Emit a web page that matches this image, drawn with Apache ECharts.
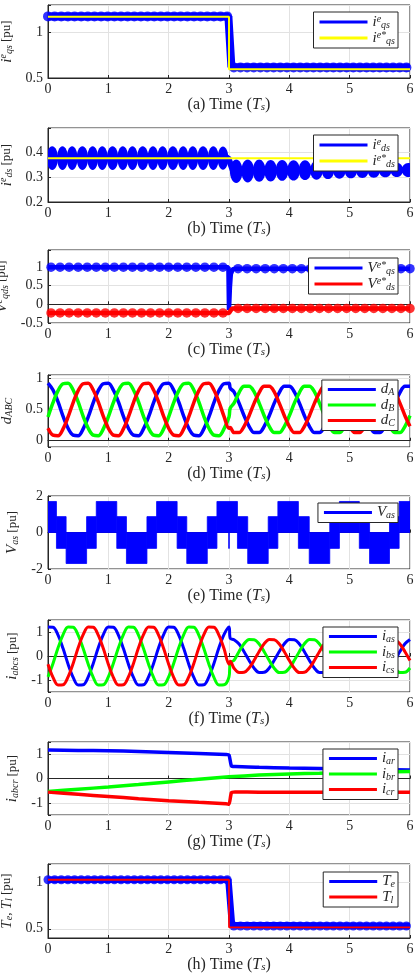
<!DOCTYPE html>
<html>
<head>
<meta charset="utf-8">
<script src="https://cdn.jsdelivr.net/npm/echarts@6/dist/echarts.min.js"></script>
<style>
  html, body { margin: 0; padding: 0; background: #fff; }
  #chart { width: 415px; height: 974px; }
</style>
</head>
<body>
<div id="chart"></div>
<script>
// ---------- values (time in Ts, values in pu) ----------
const yTicksA = [0.5, 1];
const yTicksB = [0.2, 0.3, 0.4];
const yTicksC = [-0.5, 0, 0.5, 1];
const yTicksD = [0, 0.5, 1];
const yTicksE = [-2, 0, 2];
const yTicksF = [-1, 0, 1];
const yTicksG = [-1, 0, 1];
const yTicksH = [0.5, 1];

// (a) q-axis current: reference, band centre and the ripple bumps on the band
const iqsRef = [[0, 1.17], [3, 1.17], [3, 0.595], [6, 0.595]];
const iqsMean = [[0, 1.175], [2.99, 1.175], [3.04, 0.62], [6, 0.615]];
const iqsRipple = [
  [0, 1.175], [0.11, 1.175], [0.22, 1.175], [0.33, 1.175], [0.44, 1.175], [0.55, 1.175], [0.66, 1.175],
  [0.77, 1.175], [0.88, 1.175], [0.99, 1.175], [1.1, 1.175], [1.21, 1.175], [1.32, 1.175], [1.43, 1.175],
  [1.54, 1.175], [1.65, 1.175], [1.76, 1.175], [1.87, 1.175], [1.98, 1.175], [2.09, 1.175], [2.2, 1.175],
  [2.31, 1.175], [2.42, 1.175], [2.53, 1.175], [2.64, 1.175], [2.75, 1.175], [2.86, 1.175], [2.97, 1.175],
  [3.08, 0.615], [3.19, 0.615], [3.3, 0.615], [3.41, 0.615], [3.52, 0.615], [3.63, 0.615], [3.74, 0.615],
  [3.85, 0.615], [3.96, 0.615], [4.07, 0.615], [4.18, 0.615], [4.29, 0.615], [4.4, 0.615], [4.51, 0.615],
  [4.62, 0.615], [4.73, 0.615], [4.84, 0.615], [4.95, 0.615], [5.06, 0.615], [5.17, 0.615], [5.28, 0.615],
  [5.39, 0.615], [5.5, 0.615], [5.61, 0.615], [5.72, 0.615], [5.83, 0.615], [5.94, 0.615]
];

// (b) d-axis current: reference, band centre, beat lobes [t, centre, peak-to-peak]
const idsRef = [[0, 0.377], [6, 0.377]];
const idsMean = [[0, 0.378], [2.99, 0.378], [3.06, 0.33], [6, 0.33]];
const idsLobes = [
  [0.07, 0.378, 0.097], [0.24, 0.378, 0.097], [0.4, 0.378, 0.097], [0.57, 0.378, 0.097], [0.74, 0.378, 0.097],
  [0.9, 0.378, 0.097], [1.07, 0.378, 0.097], [1.24, 0.378, 0.097], [1.4, 0.378, 0.097], [1.57, 0.378, 0.097],
  [1.74, 0.378, 0.097], [1.9, 0.378, 0.097], [2.07, 0.378, 0.097], [2.24, 0.378, 0.097], [2.4, 0.378, 0.097],
  [2.57, 0.378, 0.097], [2.74, 0.378, 0.097], [2.9, 0.378, 0.095],
  [3.12, 0.325, 0.095], [3.31, 0.326, 0.093], [3.5, 0.327, 0.09], [3.69, 0.327, 0.087], [3.88, 0.328, 0.084],
  [4.07, 0.328, 0.082], [4.26, 0.329, 0.08], [4.45, 0.329, 0.077], [4.64, 0.33, 0.074], [4.83, 0.33, 0.071],
  [5.02, 0.33, 0.068], [5.21, 0.33, 0.065], [5.4, 0.33, 0.063], [5.59, 0.33, 0.06], [5.78, 0.33, 0.058],
  [5.97, 0.33, 0.057]
];

// (c) voltage references
const vqsMean = [[0, 0.99], [2.99, 0.99], [3.0, -0.15], [3.015, 0.45], [3.03, 0.8], [3.06, 0.93], [3.1, 0.95], [6, 0.95]];
const vdsMean = [[0, -0.23], [3.0, -0.23], [3.05, -0.11], [6, -0.11]];
const vqsRipple = [
  [0.05, 0.99], [0.2, 0.99], [0.35, 0.99], [0.5, 0.99], [0.65, 0.99], [0.8, 0.99], [0.95, 0.99], [1.1, 0.99],
  [1.25, 0.99], [1.4, 0.99], [1.55, 0.99], [1.7, 0.99], [1.85, 0.99], [2, 0.99], [2.15, 0.99], [2.3, 0.99],
  [2.45, 0.99], [2.6, 0.99], [2.75, 0.99], [2.9, 0.99],
  [3.15, 0.95], [3.3, 0.95], [3.45, 0.95], [3.6, 0.95], [3.75, 0.95], [3.9, 0.95], [4.05, 0.95], [4.2, 0.95],
  [4.35, 0.95], [4.5, 0.95], [4.65, 0.95], [4.8, 0.95], [4.95, 0.95], [5.1, 0.95], [5.25, 0.95], [5.4, 0.95],
  [5.55, 0.95], [5.7, 0.95], [5.85, 0.95], [6, 0.95]
];
const vdsRipple = [
  [0.05, -0.23], [0.2, -0.23], [0.35, -0.23], [0.5, -0.23], [0.65, -0.23], [0.8, -0.23], [0.95, -0.23], [1.1, -0.23],
  [1.25, -0.23], [1.4, -0.23], [1.55, -0.23], [1.7, -0.23], [1.85, -0.23], [2, -0.23], [2.15, -0.23], [2.3, -0.23],
  [2.45, -0.23], [2.6, -0.23], [2.75, -0.23], [2.9, -0.23],
  [3.15, -0.11], [3.3, -0.11], [3.45, -0.11], [3.6, -0.11], [3.75, -0.11], [3.9, -0.11], [4.05, -0.11], [4.2, -0.11],
  [4.35, -0.11], [4.5, -0.11], [4.65, -0.11], [4.8, -0.11], [4.95, -0.11], [5.1, -0.11], [5.25, -0.11], [5.4, -0.11],
  [5.55, -0.11], [5.7, -0.11], [5.85, -0.11], [6, -0.11]
];

// sample instants used for the sinusoidal traces in (d) and (f)
const tPre = [0, 0.083, 0.167, 0.25, 0.333, 0.417, 0.5, 0.583, 0.667, 0.75, 0.833, 0.917,
  1, 1.083, 1.167, 1.25, 1.333, 1.417, 1.5, 1.583, 1.667, 1.75, 1.833, 1.917,
  2, 2.083, 2.167, 2.25, 2.333, 2.417, 2.5, 2.583, 2.667, 2.75, 2.833, 2.917, 3];
const tPost = [3.02, 3.083, 3.167, 3.25, 3.333, 3.417, 3.5, 3.583, 3.667, 3.75, 3.833, 3.917,
  4, 4.083, 4.167, 4.25, 4.333, 4.417, 4.5, 4.583, 4.667, 4.75, 4.833, 4.917,
  5, 5.083, 5.167, 5.25, 5.333, 5.417, 5.5, 5.583, 5.667, 5.75, 5.833, 5.917, 6];

// (d) duty cycles
const dAPre = [0.92, 0.81, 0.62, 0.39, 0.2, 0.09, 0.08, 0.19, 0.38, 0.61, 0.8, 0.91,
  0.92, 0.81, 0.62, 0.39, 0.2, 0.09, 0.08, 0.19, 0.38, 0.61, 0.8, 0.91,
  0.92, 0.81, 0.62, 0.39, 0.2, 0.09, 0.08, 0.19, 0.38, 0.61, 0.8, 0.91, 0.92];
const dBPre = [0.38, 0.61, 0.8, 0.91, 0.92, 0.81, 0.62, 0.39, 0.2, 0.09, 0.08, 0.19,
  0.38, 0.61, 0.8, 0.91, 0.92, 0.81, 0.62, 0.39, 0.2, 0.09, 0.08, 0.19,
  0.38, 0.61, 0.8, 0.91, 0.92, 0.81, 0.62, 0.39, 0.2, 0.09, 0.08, 0.19, 0.38];
const dCPre = [0.2, 0.09, 0.08, 0.19, 0.38, 0.61, 0.8, 0.91, 0.92, 0.81, 0.62, 0.39,
  0.2, 0.09, 0.08, 0.19, 0.38, 0.61, 0.8, 0.91, 0.92, 0.81, 0.62, 0.39,
  0.2, 0.09, 0.08, 0.19, 0.38, 0.61, 0.8, 0.91, 0.92, 0.81, 0.62, 0.39, 0.2];
const dAPost = [0.84,
  0.78, 0.6, 0.4, 0.23, 0.13, 0.13, 0.23, 0.4, 0.6, 0.77, 0.87, 0.87,
  0.78, 0.6, 0.4, 0.23, 0.13, 0.13, 0.23, 0.4, 0.6, 0.77, 0.87, 0.87,
  0.78, 0.6, 0.4, 0.23, 0.13, 0.13, 0.23, 0.4, 0.6, 0.77, 0.87, 0.87];
const dBPost = [0.52,
  0.6, 0.77, 0.87, 0.87, 0.78, 0.6, 0.4, 0.23, 0.13, 0.13, 0.23, 0.4,
  0.6, 0.77, 0.87, 0.87, 0.78, 0.6, 0.4, 0.23, 0.13, 0.13, 0.23, 0.4,
  0.6, 0.77, 0.87, 0.87, 0.78, 0.6, 0.4, 0.23, 0.13, 0.13, 0.23, 0.4];
const dCPost = [0.21,
  0.13, 0.13, 0.23, 0.4, 0.6, 0.77, 0.87, 0.87, 0.78, 0.6, 0.4, 0.23,
  0.13, 0.13, 0.23, 0.4, 0.6, 0.77, 0.87, 0.87, 0.78, 0.6, 0.4, 0.23,
  0.13, 0.13, 0.23, 0.4, 0.6, 0.77, 0.87, 0.87, 0.78, 0.6, 0.4, 0.23];

// (e) phase voltage: switching bands [tStart, tEnd, low, high]
const vasBands = [
  [0, 0.14, 0, 1.7], [0.14, 0.3, -0.87, 0.87], [0.3, 0.64, -1.7, 0], [0.64, 0.8, -0.87, 0.87],
  [0.8, 1.14, 0, 1.7], [1.14, 1.3, -0.87, 0.87], [1.3, 1.64, -1.7, 0], [1.64, 1.8, -0.87, 0.87],
  [1.8, 2.14, 0, 1.7], [2.14, 2.3, -0.87, 0.87], [2.3, 2.64, -1.7, 0], [2.64, 2.8, -0.87, 0.87],
  [2.8, 3.14, 0, 1.7], [2.995, 3.005, -0.87, 0],
  [3.14, 3.31, -0.87, 0.87], [3.31, 3.65, -1.7, 0], [3.65, 3.81, -0.87, 0.87],
  [3.81, 4.15, 0, 1.7], [4.15, 4.33, -0.87, 0.87], [4.33, 4.67, -1.7, 0], [4.67, 4.83, -0.87, 0.87],
  [4.83, 5.16, 0, 1.7], [5.16, 5.33, -0.87, 0.87], [5.33, 5.66, -1.7, 0], [5.66, 5.82, -0.87, 0.87],
  [5.82, 6, 0, 1.7]
];

// (f) stator phase currents
const iasPre = [1.21, 1.2, 0.87, 0.31, -0.34, -0.89, -1.21, -1.2, -0.87, -0.31, 0.34, 0.89,
  1.21, 1.2, 0.87, 0.31, -0.34, -0.89, -1.21, -1.2, -0.87, -0.31, 0.34, 0.89,
  1.21, 1.2, 0.87, 0.31, -0.34, -0.89, -1.21, -1.2, -0.87, -0.31, 0.34, 0.89, 1.21];
const ibsPre = [-0.87, -0.31, 0.34, 0.89, 1.21, 1.2, 0.87, 0.31, -0.34, -0.89, -1.21, -1.2,
  -0.87, -0.31, 0.34, 0.89, 1.21, 1.2, 0.87, 0.31, -0.34, -0.89, -1.21, -1.2,
  -0.87, -0.31, 0.34, 0.89, 1.21, 1.2, 0.87, 0.31, -0.34, -0.89, -1.21, -1.2, -0.87];
const icsPre = [-0.34, -0.89, -1.21, -1.2, -0.87, -0.31, 0.34, 0.89, 1.21, 1.2, 0.87, 0.31,
  -0.34, -0.89, -1.21, -1.2, -0.87, -0.31, 0.34, 0.89, 1.21, 1.2, 0.87, 0.31,
  -0.34, -0.89, -1.21, -1.2, -0.87, -0.31, 0.34, 0.89, 1.21, 1.2, 0.87, 0.31, -0.34];
const iasPost = [0.74,
  0.68, 0.5, 0.18, -0.19, -0.51, -0.69, -0.68, -0.5, -0.18, 0.19, 0.51, 0.69,
  0.68, 0.5, 0.18, -0.19, -0.51, -0.69, -0.68, -0.5, -0.18, 0.19, 0.51, 0.69,
  0.68, 0.5, 0.18, -0.19, -0.51, -0.69, -0.68, -0.5, -0.18, 0.19, 0.51, 0.69];
const ibsPost = [-0.28,
  -0.18, 0.19, 0.51, 0.69, 0.68, 0.5, 0.18, -0.19, -0.51, -0.69, -0.68, -0.5,
  -0.18, 0.19, 0.51, 0.69, 0.68, 0.5, 0.18, -0.19, -0.51, -0.69, -0.68, -0.5,
  -0.18, 0.19, 0.51, 0.69, 0.68, 0.5, 0.18, -0.19, -0.51, -0.69, -0.68, -0.5];
const icsPost = [-0.22,
  -0.51, -0.69, -0.68, -0.5, -0.18, 0.19, 0.51, 0.69, 0.68, 0.5, 0.18, -0.19,
  -0.51, -0.69, -0.68, -0.5, -0.18, 0.19, 0.51, 0.69, 0.68, 0.5, 0.18, -0.19,
  -0.51, -0.69, -0.68, -0.5, -0.18, 0.19, 0.51, 0.69, 0.68, 0.5, 0.18, -0.19];

// (g) rotor currents
const iar = [[0, 1.17], [0.5, 1.155], [1, 1.14], [1.5, 1.11], [2, 1.07], [2.5, 1.03], [2.95, 0.99], [3, 0.97],
  [3.04, 0.52], [3.1, 0.49], [3.5, 0.46], [4, 0.43], [4.5, 0.41], [5, 0.39], [5.5, 0.37], [6, 0.35]];
const ibr = [[0, -0.53], [0.5, -0.44], [1, -0.35], [1.5, -0.25], [2, -0.14], [2.5, -0.03], [3, 0.07],
  [3.5, 0.14], [4, 0.19], [4.5, 0.22], [5, 0.25], [5.5, 0.27], [6, 0.29]];
const icr = [[0, -0.56], [0.5, -0.65], [1, -0.74], [1.5, -0.83], [2, -0.91], [2.5, -0.98], [2.95, -1.04], [3, -1.06],
  [3.04, -0.58], [3.1, -0.55], [3.5, -0.56], [4, -0.57], [5, -0.57], [6, -0.57]];

// (h) torques
const teMean = [[0, 1.03], [2.99, 1.03], [3.05, 0.54], [6, 0.53]];
const tlLoad = [[0, 1.03], [3, 1.03], [3, 0.515], [6, 0.515]];
const teRipple = [
  [0, 1.03], [0.11, 1.03], [0.22, 1.03], [0.33, 1.03], [0.44, 1.03], [0.55, 1.03], [0.66, 1.03],
  [0.77, 1.03], [0.88, 1.03], [0.99, 1.03], [1.1, 1.03], [1.21, 1.03], [1.32, 1.03], [1.43, 1.03],
  [1.54, 1.03], [1.65, 1.03], [1.76, 1.03], [1.87, 1.03], [1.98, 1.03], [2.09, 1.03], [2.2, 1.03],
  [2.31, 1.03], [2.42, 1.03], [2.53, 1.03], [2.64, 1.03], [2.75, 1.03], [2.86, 1.03], [2.97, 1.03],
  [3.08, 0.53], [3.19, 0.53], [3.3, 0.53], [3.41, 0.53], [3.52, 0.53], [3.63, 0.53], [3.74, 0.53],
  [3.85, 0.53], [3.96, 0.53], [4.07, 0.53], [4.18, 0.53], [4.29, 0.53], [4.4, 0.53], [4.51, 0.53],
  [4.62, 0.53], [4.73, 0.53], [4.84, 0.53], [4.95, 0.53], [5.06, 0.53], [5.17, 0.53], [5.28, 0.53],
  [5.39, 0.53], [5.5, 0.53], [5.61, 0.53], [5.72, 0.53], [5.83, 0.53], [5.94, 0.53]
];

// ---------- styling ----------
const SERIF = '"Liberation Serif", "DejaVu Serif", serif';
const INK = '#262626';
const BLUE = '#0000ff', RED = '#ff0000', GREEN = '#00ff00', YELLOW = '#ffff00';

function richSet(size, mathSize) {
  const ms = mathSize || size;
  const s = Math.round(ms * 0.66);
  return {
    r: { fontFamily: SERIF, fontSize: size, color: INK, lineHeight: 16 },
    m: { fontFamily: SERIF, fontStyle: 'italic', fontSize: ms, color: INK, lineHeight: 16 },
    sup: { fontFamily: SERIF, fontStyle: 'italic', fontSize: s, color: INK, lineHeight: 8, verticalAlign: 'top' },
    sub: { fontFamily: SERIF, fontStyle: 'italic', fontSize: s, color: INK, lineHeight: 8, verticalAlign: 'bottom' },
  };
}

const legendText = {
  iqs: '{m|i}{sup|e}{sub|qs}', iqsRef: '{m|i}{sup|e*}{sub|qs}',
  ids: '{m|i}{sup|e}{sub|ds}', idsRef: '{m|i}{sup|e*}{sub|ds}',
  vqs: '{m|V}{sup|e*}{sub|qs}', vds: '{m|V}{sup|e*}{sub|ds}',
  dA: '{m|d}{sub|A}', dB: '{m|d}{sub|B}', dC: '{m|d}{sub|C}',
  Vas: '{m|V}{sub|as}',
  ias: '{m|i}{sub|as}', ibs: '{m|i}{sub|bs}', ics: '{m|i}{sub|cs}',
  iar: '{m|i}{sub|ar}', ibr: '{m|i}{sub|br}', icr: '{m|i}{sub|cr}',
  Te: '{m|T}{sub|e}', Tl: '{m|T}{sub|l}',
};

const panels = [
  { tag: 'a', top: 5, height: 73, min: 0.5, max: 1.3, interval: 0.5, ticks: yTicksA,
    yName: '{m|i}{sup|e}{sub|qs}{r| [pu]}', legend: ['iqs', 'iqsRef'], legendTop: 12 },
  { tag: 'b', top: 128, height: 74, min: 0.2, max: 0.5, interval: 0.1, ticks: yTicksB,
    yName: '{m|i}{sup|e}{sub|ds}{r| [pu]}', legend: ['ids', 'idsRef'], legendTop: 135 },
  { tag: 'c', top: 250, height: 73, min: -0.5, max: 1.45, interval: 0.5, ticks: yTicksC,
    yName: '{m|V}{sup|e}{sub|qds}{r| [pu]}', legend: ['vqs', 'vds'], legendTop: 258 },
  { tag: 'd', top: 375, height: 72, min: -0.1, max: 1.05, nice: 0.5, ticks: yTicksD,
    yName: '{m|d}{sub|ABC}', legend: ['dA', 'dB', 'dC'], legendTop: 380 },
  { tag: 'e', top: 496, height: 73, min: -2, max: 2, interval: 2, ticks: yTicksE,
    yName: '{m|V}{sub|as}{r| [pu]}', legend: ['Vas'], legendTop: 503 },
  { tag: 'f', top: 620, height: 72, min: -1.5, max: 1.5, nice: 1, ticks: yTicksF,
    yName: '{m|i}{sub|abcs}{r| [pu]}', legend: ['ias', 'ibs', 'ics'], legendTop: 627 },
  { tag: 'g', top: 742, height: 73, min: -1.5, max: 1.5, nice: 1, ticks: yTicksG,
    yName: '{m|i}{sub|abcr}{r| [pu]}', legend: ['iar', 'ibr', 'icr'], legendTop: 749 },
  { tag: 'h', top: 864, height: 74, min: 0.4, max: 1.2, nice: 0.5, ticks: yTicksH,
    yName: '{m|T}{sub|e}{r|, }{m|T}{sub|l}{r| [pu]}', legend: ['Te', 'Tl'], legendTop: 872 },
];

function zip(ts, vs) {
  return ts.map((t, i) => [t, vs[i]]);
}

function tickText(ticks) {
  return (v) => (ticks.some((t) => Math.abs(t - v) < 1e-6) ? String(+v.toFixed(2)) : '');
}

function line(name, idx, data, color, width, extra) {
  return Object.assign({
    name, type: 'line', xAxisIndex: idx, yAxisIndex: idx, data,
    showSymbol: false, symbol: 'none', color,
    lineStyle: { width, color }, silent: true,
  }, extra || {});
}

function dots(name, idx, data, color, size) {
  return {
    name, type: 'scatter', xAxisIndex: idx, yAxisIndex: idx, data,
    symbol: 'circle', symbolSize: size, itemStyle: { color }, silent: true,
  };
}

function lobeRender(rows) {
  return function (params, api) {
    const i = params.dataIndex;
    const row = rows[i];
    const gaps = [];
    if (i > 0) gaps.push(row[0] - rows[i - 1][0]);
    if (i < rows.length - 1) gaps.push(rows[i + 1][0] - row[0]);
    const step = Math.min.apply(null, gaps.filter((g) => g < 0.3));
    const c = api.coord([row[0], row[1]]);
    const top = api.coord([row[0], row[1] + row[2] / 2]);
    const rx = api.size([step, 0])[0] / 2 + 0.6;
    return {
      type: 'ellipse',
      shape: { cx: c[0], cy: c[1], rx: rx, ry: c[1] - top[1] },
      style: { fill: BLUE },
    };
  };
}

function bandRender(params, api) {
  const p0 = api.coord([api.value(0), api.value(3)]);
  const p1 = api.coord([api.value(1), api.value(2)]);
  return {
    type: 'rect',
    shape: { x: p0[0], y: p0[1], width: p1[0] - p0[0], height: p1[1] - p0[1] },
    style: { fill: BLUE, stroke: BLUE, lineWidth: 0.8 },
  };
}

const sinSmooth = { smooth: 0.35 };

const series = [
  // (a)
  line('iqs', 0, iqsMean, BLUE, 8),
  dots('iqsRipple', 0, iqsRipple, BLUE, 10),
  line('iqsRef', 0, iqsRef, YELLOW, 2),
  // (b)
  line('ids', 1, idsMean, BLUE, 6),
  { name: 'idsLobes', type: 'custom', xAxisIndex: 1, yAxisIndex: 1, data: idsLobes,
    encode: { x: 0, y: 1 }, renderItem: lobeRender(idsLobes), clip: true, silent: true, itemStyle: { color: BLUE } },
  line('idsRef', 1, idsRef, YELLOW, 2),
  // (c)
  line('vqs', 2, vqsMean, BLUE, 4.5),
  dots('vqsRipple', 2, vqsRipple, BLUE, 9.5),
  line('vds', 2, vdsMean, RED, 4.5),
  dots('vdsRipple', 2, vdsRipple, RED, 9.5),
  // (d)
  line('dA', 3, zip(tPre.concat(tPost), dAPre.concat(dAPost)), BLUE, 3.5, sinSmooth),
  line('dB', 3, zip(tPre.concat(tPost), dBPre.concat(dBPost)), GREEN, 3.5, sinSmooth),
  line('dC', 3, zip(tPre.concat(tPost), dCPre.concat(dCPost)), RED, 3.5, sinSmooth),
  // (e)
  { name: 'Vas', type: 'custom', xAxisIndex: 4, yAxisIndex: 4, data: vasBands,
    encode: { x: [0, 1], y: [2, 3] }, renderItem: bandRender, clip: true, silent: true, itemStyle: { color: BLUE } },
  // (f)
  line('ias', 5, zip(tPre.concat(tPost), iasPre.concat(iasPost)), BLUE, 3, sinSmooth),
  line('ibs', 5, zip(tPre.concat(tPost), ibsPre.concat(ibsPost)), GREEN, 3, sinSmooth),
  line('ics', 5, zip(tPre.concat(tPost), icsPre.concat(icsPost)), RED, 3, sinSmooth),
  // (g)
  line('iar', 6, iar, BLUE, 3.5, { smooth: 0.2 }),
  line('ibr', 6, ibr, GREEN, 3.5, { smooth: 0.2 }),
  line('icr', 6, icr, RED, 3.5, { smooth: 0.2 }),
  // (h)
  line('Te', 7, teMean, BLUE, 6.5),
  dots('teRipple', 7, teRipple, BLUE, 9),
  line('Tl', 7, tlLoad, RED, 1.8),
];

const grid = panels.map((p) => ({
  left: 48, right: 5, top: p.top, height: p.height,
  outerBoundsMode: 'none', containLabel: false,
  show: true, borderColor: INK, borderWidth: 1, backgroundColor: '#fff',
}));

const xAxis = panels.map((p, i) => ({
  gridIndex: i, type: 'value', min: 0, max: 6, interval: 1,
  axisLine: { lineStyle: { color: INK, width: 1 } },
  axisTick: { inside: true, length: 3, lineStyle: { color: INK } },
  axisLabel: { fontFamily: SERIF, fontSize: 14, color: INK, margin: 4 },
  splitLine: { show: true, lineStyle: { color: '#e2e2e2', width: 1 } },
  name: '{r|(' + p.tag + ') Time (}{m|T}{sub|s}{r|)}',
  nameLocation: 'middle', nameGap: 19,
  nameTextStyle: { rich: richSet(16), fontFamily: SERIF, fontSize: 16, color: INK },
}));

const yAxis = panels.map((p, i) => {
  const ax = {
    gridIndex: i, type: 'value', min: p.min, max: p.max,
    axisLine: { show: true, lineStyle: { color: INK, width: 1 } },
    axisTick: { show: true, inside: true, length: 3, lineStyle: { color: INK } },
    axisLabel: { fontFamily: SERIF, fontSize: 14, color: INK, margin: 5, formatter: tickText(p.ticks) },
    splitLine: { show: true, lineStyle: { color: '#e2e2e2', width: 1 } },
    name: p.yName, nameLocation: 'middle', nameGap: 27, nameRotate: 90,
    nameTextStyle: { rich: richSet(13, 15), fontFamily: SERIF, fontSize: 13, color: INK },
  };
  if (p.interval) ax.interval = p.interval;
  else { ax.minInterval = p.nice; ax.maxInterval = p.nice; }
  return ax;
});

const legend = panels.map((p) => ({
  data: p.legend, orient: 'vertical', right: 17, top: p.legendTop,
  icon: 'rect', itemWidth: 48, itemHeight: 3, itemGap: 0, itemTextGap: 5,
  padding: [2, 3, 2, 6], backgroundColor: '#fff', borderColor: INK, borderWidth: 1, borderRadius: 0,
  selectedMode: false,
  formatter: (name) => legendText[name],
  textStyle: { rich: richSet(15), fontFamily: SERIF, fontSize: 15, color: INK },
}));

const chart = echarts.init(document.getElementById('chart'), null, { renderer: 'canvas' });
chart.setOption({
  animation: false,
  backgroundColor: '#fff',
  grid, xAxis, yAxis, legend, series,
});
</script>
</body>
</html>
